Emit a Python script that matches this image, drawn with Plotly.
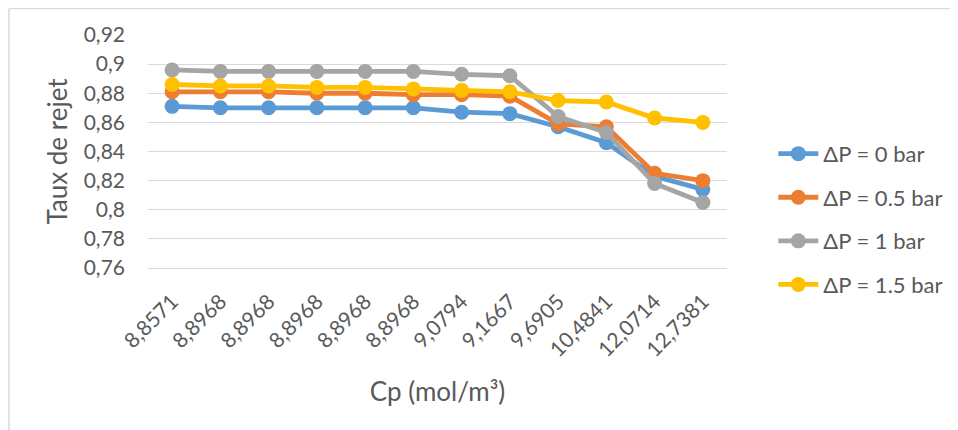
import plotly.graph_objects as go

cp_labels = ["8,8571", "8,8968", "8,8968", "8,8968", "8,8968", "8,8968",
             "9,0794", "9,1667", "9,6905", "10,4841", "12,0714", "12,7381"]

dp0 = [0.871, 0.870, 0.870, 0.870, 0.870, 0.870, 0.867, 0.866, 0.857, 0.846, 0.823, 0.814]
dp05 = [0.881, 0.881, 0.881, 0.880, 0.880, 0.879, 0.879, 0.878, 0.859, 0.857, 0.825, 0.820]
dp1 = [0.896, 0.895, 0.895, 0.895, 0.895, 0.895, 0.893, 0.892, 0.864, 0.853, 0.818, 0.805]
dp15 = [0.886, 0.885, 0.885, 0.884, 0.884, 0.883, 0.882, 0.881, 0.875, 0.874, 0.863, 0.860]

series_names = ["ΔP = 0 bar", "ΔP = 0.5 bar", "ΔP = 1 bar", "ΔP = 1.5 bar"]
series_vals = [dp0, dp05, dp1, dp15]
colors = ["#5B9BD5", "#ED7D31", "#A5A5A5", "#FFC000"]

xpos = list(range(len(cp_labels)))

fig = go.Figure()
for i, (name, vals, col) in enumerate(zip(series_names, series_vals, colors)):
    fig.add_trace(go.Scatter(
        x=xpos, y=vals, name=name, mode="lines+markers",
        line=dict(color=col, width=4.8),
        marker=dict(color=col, size=15),
        legendgroup=f"g{i}",
    ))

font_family = "Lato, 'Open Sans', sans-serif"
txt = "#595959"

fig.update_layout(
    width=958, height=430,
    margin=dict(l=140, r=239, t=27, b=170),
    paper_bgcolor="white", plot_bgcolor="white",
    font=dict(family=font_family, color=txt, size=21),
    separators=", ",
    showlegend=True,
    legend=dict(x=1.08, y=0.58, xanchor="left", yanchor="top",
                font=dict(size=22, color=txt, family=font_family),
                tracegroupgap=12, itemwidth=40, bgcolor="rgba(0,0,0,0)"),
    xaxis=dict(
        range=[-0.5, len(cp_labels) - 0.5],
        tickmode="array", tickvals=xpos, ticktext=cp_labels,
        tickangle=-45, tickfont=dict(size=21, color=txt),
        ticklabelstandoff=12,
        showgrid=False, zeroline=False,
        showline=True, linecolor="#D9D9D9", linewidth=1,
        title=dict(text="Cp (mol/m³)", font=dict(size=26, color=txt), standoff=22),
    ),
    yaxis=dict(
        range=[0.76, 0.92], dtick=0.02, tick0=0.76,
        tickformat=".2~f",
        showgrid=True, gridcolor="#D9D9D9", gridwidth=1,
        zeroline=False, showline=False,
        tickfont=dict(size=21, color=txt),
        ticks="", ticklen=0, ticklabelstandoff=22,
        title=dict(text="Taux de rejet", font=dict(size=26, color=txt), standoff=8),
    ),
    shapes=[
        dict(type="line", xref="paper", yref="paper", x0=-0.2401, x1=-0.2401,
             y0=1.1137, y1=-0.75, line=dict(color="#D9D9D9", width=1.5)),
        dict(type="line", xref="paper", yref="paper", x0=-0.2401, x1=1.45,
             y0=1.1137, y1=1.1137, line=dict(color="#D9D9D9", width=1.5)),
    ],
)

fig.write_html("out.html")
